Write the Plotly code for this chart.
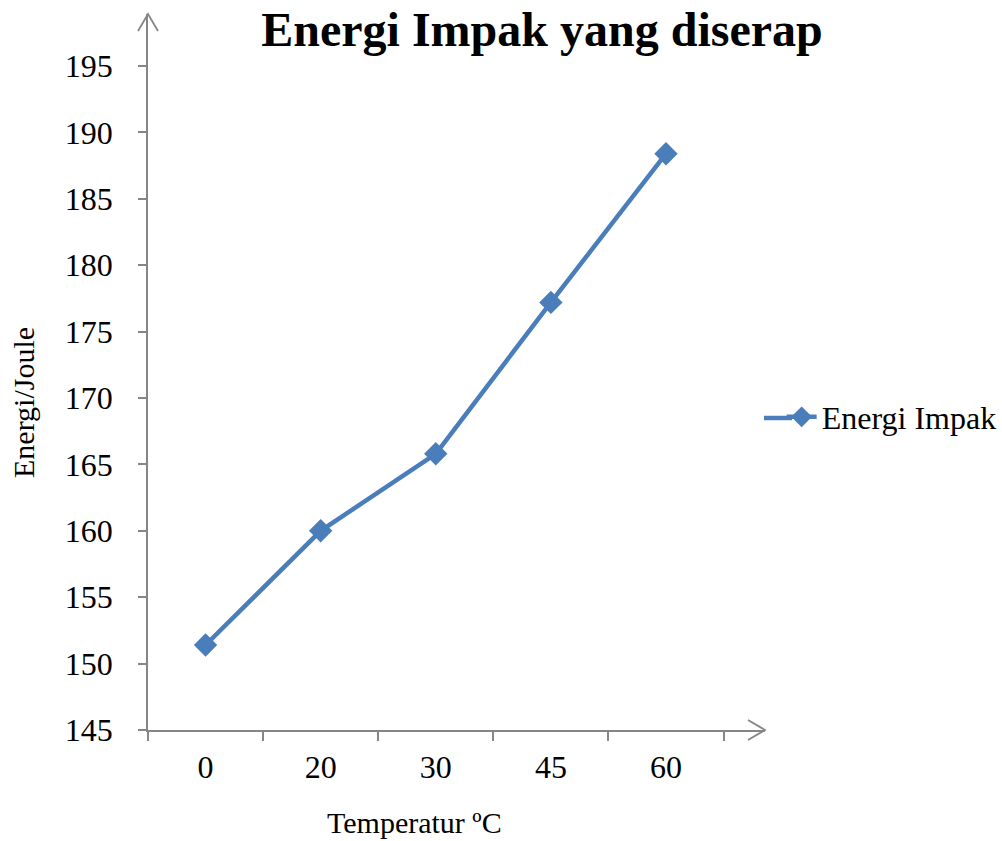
import plotly.graph_objects as go

categories = ["0", "20", "30", "45", "60"]
energy = [151.4, 160.0, 165.8, 177.2, 188.4]
y_ticks = [145, 150, 155, 160, 165, 170, 175, 180, 185, 190, 195]

FONT = "Liberation Serif, Times New Roman, serif"
AXIS = "#868686"
BLUE = "#4A7EBB"

FW, FH = 1002, 841
L, T, W, H = 148, 14, 617, 716

def px(x):   # reference pixel -> paper
    return (x - L) / W

def py(y):
    return (T + H - y) / H

fig = go.Figure()
fig.add_trace(go.Scatter(
    x=categories, y=energy, mode="lines+markers", name="Energi Impak",
    line=dict(color=BLUE, width=4.5),
    marker=dict(symbol="diamond", size=18, color=BLUE),
))

shapes = [
    dict(type="path", xref="paper", yref="paper",
         path=f"M {px(138)} {py(31)} L {px(148)} {py(14)} L {px(158)} {py(31)}",
         line=dict(color=AXIS, width=1.8)),
    dict(type="path", xref="paper", yref="paper",
         path=f"M {px(748)} {py(720)} L {px(765)} {py(730)} L {px(748)} {py(740)}",
         line=dict(color=AXIS, width=1.8)),
    # longer legend line, as in the reference
    dict(type="line", xref="paper", yref="paper",
         x0=px(764), x1=px(792), y0=py(418), y1=py(418),
         line=dict(color=BLUE, width=4.5)),
]

annotations = [
    dict(text="Energi/Joule", xref="paper", yref="paper", x=px(24), y=py(403),
         xanchor="center", yanchor="middle", textangle=-90, showarrow=False,
         font=dict(size=30, family=FONT, color="black")),
    dict(text="Temperatur ºC", xref="paper", yref="paper", x=px(414), y=py(841),
         xanchor="center", yanchor="bottom", showarrow=False,
         font=dict(size=30, family=FONT, color="black")),
]

fig.update_layout(
    width=FW, height=FH,
    margin=dict(l=L, r=FW - L - W, t=T, b=FH - T - H, autoexpand=False),
    paper_bgcolor="white", plot_bgcolor="white",
    font=dict(family=FONT, color="black"),
    title=dict(text="<b>Energi Impak yang diserap</b>", font=dict(size=48, family=FONT),
               x=542 / FW, xref="container", xanchor="center",
               y=1 - 12 / FH, yref="container", yanchor="top"),
    xaxis=dict(type="category", range=[-0.5, 4.86], showline=True, linecolor=AXIS, linewidth=1.5,
               ticks="outside", tickson="boundaries", ticklen=9, tickcolor=AXIS, tickwidth=1.5,
               ticklabelstandoff=8,
               showgrid=False, zeroline=False, tickfont=dict(size=32)),
    yaxis=dict(range=[145, 198.92], tickvals=y_ticks, showline=True, linecolor=AXIS, linewidth=1.5,
               ticks="outside", ticklen=8, tickcolor=AXIS, tickwidth=1.5,
               ticklabelstandoff=19,
               showgrid=False, zeroline=False, tickfont=dict(size=32)),
    legend=dict(x=1.027, xanchor="left", y=py(417), yanchor="middle",
                font=dict(size=32), bgcolor="rgba(0,0,0,0)"),
    showlegend=True,
    shapes=shapes,
    annotations=annotations,
)

fig.write_html("out.html", config={"displayModeBar": False},
               post_script="document.body.style.margin='0';")
